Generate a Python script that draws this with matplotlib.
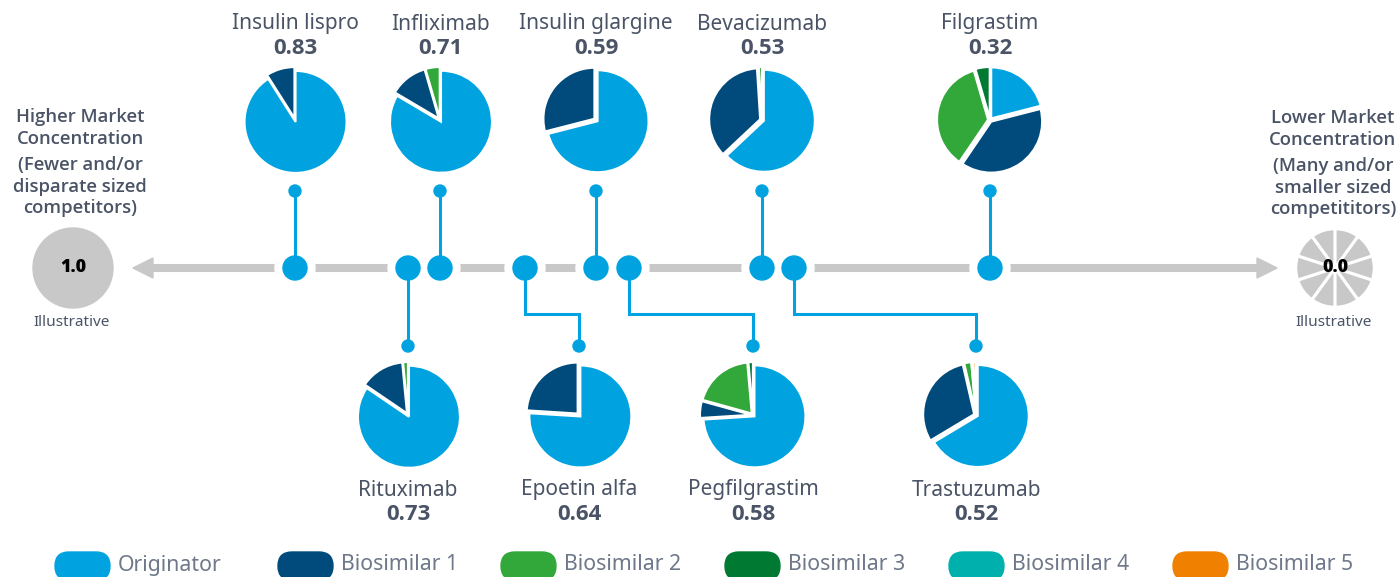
import matplotlib.pyplot as plt
from matplotlib.patches import Circle, FancyBboxPatch, Polygon

plt.rcParams['font.family'] = ['Noto Sans', 'DejaVu Sans']
BOLD_FONT = ['Open Sans', 'DejaVu Sans']

# companies and colours
companies = ["Originator", "Biosimilar 1", "Biosimilar 2",
             "Biosimilar 3", "Biosimilar 4", "Biosimilar 5"]
colors = ["#00A3E0", "#004B7B", "#31A839", "#007A33", "#00B0AD", "#F08000"]

# drugs shown above the axis
top_drugs = ["Insulin lispro", "Infliximab", "Insulin glargine", "Bevacizumab", "Filgrastim"]
top_hhi = [0.83, 0.71, 0.59, 0.53, 0.32]
top_shares = [
    [0.91, 0.09, 0, 0, 0, 0],
    [0.835, 0.12, 0.045, 0, 0, 0],
    [0.71, 0.29, 0, 0, 0, 0],
    [0.63, 0.36, 0.01, 0, 0, 0],
    [0.21, 0.385, 0.36, 0.045, 0, 0],
]

# drugs shown below the axis
bottom_drugs = ["Rituximab", "Epoetin alfa", "Pegfilgrastim", "Trastuzumab"]
bottom_hhi = [0.73, 0.64, 0.58, 0.52]
bottom_shares = [
    [0.845, 0.14, 0.015, 0, 0, 0],
    [0.76, 0.24, 0, 0, 0, 0],
    [0.74, 0.053, 0.193, 0.014, 0, 0],
    [0.664, 0.30, 0.022, 0, 0.006, 0.008],
]

end_labels = ["1.0", "0.0"]
uniform_shares = [0.1] * 10

# ---- layout (pixels) ----
W, H = 1399, 577
def Y(y):
    return H - y

axis_y = 268
top_x = [295, 440, 596, 762, 990]
bottom_dot_x = [408, 525, 629, 794]
bottom_pie_x = [408, 579, 753, 976]
pie_r = 51
txt = "#4a5466"
gray = "#c8c8c8"
blue = colors[0]

fig = plt.figure(figsize=(W / 100, H / 100), dpi=100)
ax = fig.add_axes([0, 0, 1, 1])

# grey axis with arrows
ax.plot([150, 1260], [Y(axis_y)] * 2, color=gray, lw=5.8, solid_capstyle='butt', zorder=1)
ax.add_patch(Polygon([[133, Y(axis_y)], [153, Y(axis_y - 10)], [153, Y(axis_y + 10)]],
                     closed=True, color=gray, zorder=1))
ax.add_patch(Polygon([[1277, Y(axis_y)], [1257, Y(axis_y - 10)], [1257, Y(axis_y + 10)]],
                     closed=True, color=gray, zorder=1))


def draw_pie(cx, cy, shares, r=pie_r):
    vals = [s for s in shares if s > 0]
    cols = [c for s, c in zip(shares, colors) if s > 0]
    # explode is in data units here (pixels)
    ax.pie(vals, colors=cols, center=(cx, Y(cy)), radius=r, startangle=90,
           counterclock=False, explode=[2.0] * len(vals), frame=True,
           wedgeprops=dict(edgecolor='white', linewidth=1.5, zorder=3))


def axis_dot(x):
    ax.add_patch(Circle((x, Y(axis_y)), 20, color='white', zorder=2))
    ax.add_patch(Circle((x, Y(axis_y)), 12, color=blue, zorder=5))


# top items
for x, name, hhi, shares in zip(top_x, top_drugs, top_hhi, top_shares):
    axis_dot(x)
    ax.plot([x, x], [Y(axis_y), Y(191)], color=blue, lw=2.2, zorder=4)
    ax.add_patch(Circle((x, Y(191)), 6, color=blue, zorder=5))
    draw_pie(x, 120, shares)
    ax.text(x, Y(24), name, ha='center', va='center', fontsize=15, color=txt)
    ax.text(x, Y(48), f"{hhi:.2f}", ha='center', va='center', fontsize=16,
            fontweight='bold', family=BOLD_FONT, color=txt)

# bottom items
for dx, px, name, hhi, shares in zip(bottom_dot_x, bottom_pie_x, bottom_drugs,
                                     bottom_hhi, bottom_shares):
    axis_dot(dx)
    ax.plot([dx, dx, px, px], [Y(axis_y), Y(314), Y(314), Y(346)],
            color=blue, lw=2.2, zorder=4, solid_joinstyle='miter')
    ax.add_patch(Circle((px, Y(346)), 6, color=blue, zorder=5))
    draw_pie(px, 415, shares)
    ax.text(px, Y(490), name, ha='center', va='center', fontsize=15, color=txt)
    ax.text(px, Y(514), f"{hhi:.2f}", ha='center', va='center', fontsize=16,
            fontweight='bold', family=BOLD_FONT, color=txt)

# end markers
ax.add_patch(Circle((73, Y(268)), 40, color=gray, zorder=2))
ax.text(73, Y(268), end_labels[0], ha='center', va='center', fontsize=13,
        fontweight='heavy', family=BOLD_FONT, color='black', zorder=6)
ax.pie(uniform_shares, colors=[gray] * 10, center=(1335, Y(268)), radius=37,
       startangle=90, explode=[1.8] * 10, frame=True,
       wedgeprops=dict(edgecolor='white', linewidth=1.5, zorder=3))
ax.text(1335, Y(268), end_labels[1], ha='center', va='center', fontsize=13,
        fontweight='heavy', family=BOLD_FONT, color='black', zorder=6)
ax.text(72, Y(323), "Illustrative", ha='center', va='center', fontsize=11, color=txt)
ax.text(1334, Y(323), "Illustrative", ha='center', va='center', fontsize=11, color=txt)

left_lines = [("Higher Market", 117), ("Concentration", 139), ("(Fewer and/or", 165),
              ("disparate sized", 187), ("competitors)", 208)]
right_lines = [("Lower Market", 118), ("Concentration", 140), ("(Many and/or", 166),
               ("smaller sized", 188), ("competititors)", 209)]
for s, y in left_lines:
    ax.text(80, Y(y), s, ha='center', va='center', fontsize=13.3,
            fontweight='semibold', family=BOLD_FONT, color=txt)
for s, y in right_lines:
    ax.text(1333, Y(y), s, ha='center', va='center', fontsize=13.3,
            fontweight='semibold', family=BOLD_FONT, color=txt)

# legend
legend_x = [55, 278, 501, 725, 949, 1173]
for lx, name, c in zip(legend_x, companies, colors):
    ax.add_patch(FancyBboxPatch((lx, Y(580)), 55, 28,
                                boxstyle="round,pad=0,rounding_size=14",
                                color=c, zorder=3))
    ax.text(lx + 63, Y(565), name, ha='left', va='center', fontsize=15.3, color="#6e7889")

ax.set_aspect('equal')
ax.set_xlim(0, W)
ax.set_ylim(0, H)
ax.axis('off')
fig.savefig("out.png", dpi=100)
